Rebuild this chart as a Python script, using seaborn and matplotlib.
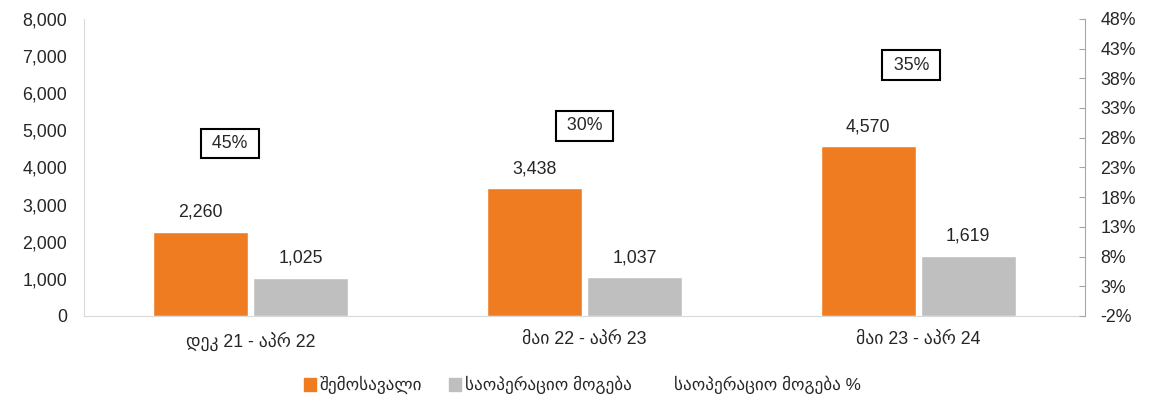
import pandas as pd
import matplotlib.pyplot as plt
import seaborn as sns
from matplotlib.patches import Patch
from matplotlib.lines import Line2D
from matplotlib.ticker import FuncFormatter, MultipleLocator, FixedLocator

sns.set_style("white")
plt.rcParams['font.family'] = ['Liberation Sans', 'DejaVu Sans']

# --- data ---
periods = ["დეკ 21 - აპრ 22", "მაი 22 - აპრ 23", "მაი 23 - აპრ 24"]
revenue = [2260, 3438, 4570]
op_profit = [1025, 1037, 1619]
margin_pct = [45, 30, 35]
series_names = ["შემოსავალი", "საოპერაციო მოგება", "საოპერაციო მოგება %"]
pct_ticks = list(range(-2, 49, 5))

orange = "#F07C22"
gray = "#BFBFBF"
fs = 12.8

df = pd.DataFrame({
    "period": periods * 2,
    "value": revenue + op_profit,
    "series": [series_names[0]] * 3 + [series_names[1]] * 3,
})

fig, ax = plt.subplots(figsize=(11.58, 4.01), dpi=100)
fig.subplots_adjust(left=0.0725, right=0.937, top=0.953, bottom=0.212)

sns.barplot(data=df, x="period", y="value", hue="series", palette=[orange, gray],
            width=0.6, gap=0.05, saturation=1, legend=False, ax=ax)
for cont in ax.containers:
    ax.bar_label(cont, labels=[f"{v:,.0f}" for v in cont.datavalues],
                 padding=8, fontsize=fs)

ax.set_ylim(0, 8000)
ax.yaxis.set_major_locator(MultipleLocator(1000))
ax.yaxis.set_major_formatter(FuncFormatter(lambda v, p: f"{v:,.0f}"))
ax.set_xlabel("")
ax.set_ylabel("")
ax.tick_params(axis="y", length=0, pad=12, labelsize=fs)
ax.tick_params(axis="x", length=0, pad=11, labelsize=fs)
for s in ["top", "right"]:
    ax.spines[s].set_visible(False)
ax.spines["left"].set_color("#D9D9D9")
ax.spines["bottom"].set_color("#D9D9D9")

# margin % on secondary axis (line itself not drawn, only boxed labels)
ax2 = ax.twinx()
ax2.plot(range(len(periods)), margin_pct, color="none")
ax2.set_ylim(-2, 48)
ax2.yaxis.set_major_locator(FixedLocator(pct_ticks))
ax2.yaxis.set_major_formatter(FuncFormatter(lambda v, p: f"{v:.0f}%"))
ax2.tick_params(axis="y", direction="in", length=4, color="#A6A6A6", pad=11, labelsize=fs)
for s in ["top", "left", "bottom"]:
    ax2.spines[s].set_visible(False)
ax2.spines["right"].set_color("#A6A6A6")
ax.set_xlim(-0.5, len(periods) - 0.5)

label_offsets = [(-21, -107), (0, 0), (-7, 31)]  # manual label placement (pixels)
for i, (pct, off) in enumerate(zip(margin_pct, label_offsets)):
    ax2.annotate(f" {pct}% ", (i, pct), xytext=off, textcoords="offset pixels",
                 ha="center", va="center", fontsize=fs,
                 bbox=dict(boxstyle="square,pad=0.35", fc="white", ec="black", lw=1.5))

handles = [Patch(color=orange), Patch(color=gray), Line2D([], [], color="none")]
fig.legend(handles, series_names, loc="center", bbox_to_anchor=(0.503, 0.04), ncol=3,
           frameon=False, fontsize=12.3, handlelength=0.7, handleheight=0.8,
           handletextpad=0.2, columnspacing=1.6)

fig.savefig("out.png", dpi=100)
